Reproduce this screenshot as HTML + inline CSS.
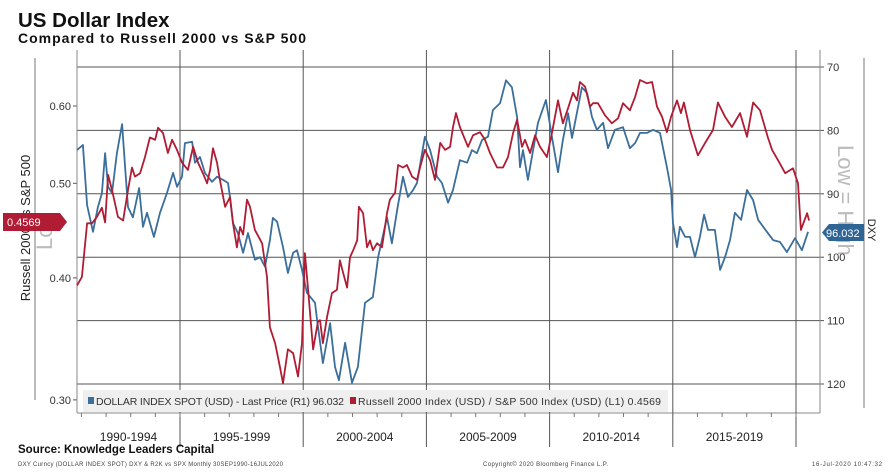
<!DOCTYPE html>
<html><head><meta charset="utf-8"><style>
body{margin:0;background:#fff;}
svg{display:block;font-family:"Liberation Sans",sans-serif;}
</style></head><body>
<svg id="chart" width="894" height="475" viewBox="0 0 894 475" xmlns="http://www.w3.org/2000/svg">
<text x="18" y="27" font-size="20.5" font-weight="bold" fill="#111">US Dollar Index</text>
<text x="18" y="43" font-size="14" font-weight="bold" fill="#111" textLength="288">Compared to Russell 2000 vs S&amp;P 500</text>
<line x1="35" y1="58" x2="35" y2="400" stroke="#777" stroke-width="1"/>
<line x1="864" y1="58" x2="864" y2="408" stroke="#777" stroke-width="1"/>
<text transform="translate(30,228) rotate(-90)" text-anchor="middle" font-size="13" fill="#222">Russell 2000 vs S&amp;P 500</text>
<text transform="translate(868,230) rotate(90)" text-anchor="middle" font-size="11" fill="#222">DXY</text>
<text transform="translate(52,250) rotate(-90)" font-size="22" fill="#bbb">Lo</text>
<text transform="translate(838,145) rotate(90)" font-size="22" fill="#bbb">Low = High</text>
<g id="grid"></g>
<rect x="83" y="390" width="585" height="22" fill="#efefef"/>
<g id="series"></g>
<rect x="88" y="397" width="6" height="7" fill="#3a6f9c"/>
<text x="96" y="405" font-size="10.5" fill="#333" textLength="248">DOLLAR INDEX SPOT (USD) - Last Price (R1) 96.032</text>
<rect x="350" y="397" width="6" height="7" fill="#b01c33"/>
<text x="358" y="405" font-size="10.5" fill="#333" textLength="303">Russell 2000 Index (USD) / S&amp;P 500 Index (USD) (L1) 0.4569</text>
<g>
<polygon points="3,213 60,213 67,222 60,231 3,231" fill="#b01c33"/>
<text x="7" y="226" font-size="11" fill="#fff">0.4569</text></g>
<g>
<polygon points="829,224 864,224 864,241 829,241 822,232.5" fill="#2f6595"/>
<text x="826" y="237" font-size="11" fill="#fff">96.032</text></g>
<text x="18" y="453" font-size="11.5" font-weight="bold" fill="#111">Source: Knowledge Leaders Capital</text>
<text x="18" y="466" font-size="6" fill="#444" textLength="265">DXY Curncy (DOLLAR INDEX SPOT) DXY &amp; R2K vs SPX  Monthly 30SEP1990-16JUL2020</text>
<text x="483" y="466" font-size="6" fill="#444" textLength="125">Copyright© 2020 Bloomberg Finance L.P.</text>
<text x="812" y="466" font-size="6" fill="#444" textLength="70">16-Jul-2020 10:47:32</text>
</svg>
<script>
const periods=["1990-1994","1995-1999","2000-2004","2005-2009","2010-2014","2015-2019"];
const leftTicks=[0.60,0.50,0.40,0.30];
const rightTicks=[70,80,90,100,110,120];
const dxyDates=[1990.82,1991.06,1991.23,1991.47,1991.67,1991.83,1991.96,1992.08,1992.24,1992.44,1992.65,1992.77,1992.89,1993.09,1993.34,1993.50,1993.66,1993.94,1994.19,1994.47,1994.72,1994.88,1995.08,1995.20,1995.49,1995.61,1995.81,1996.01,1996.30,1996.50,1996.75,1996.95,1997.03,1997.15,1997.35,1997.56,1997.76,1998.04,1998.25,1998.45,1998.65,1998.77,1998.94,1999.18,1999.38,1999.59,1999.75,1999.95,2000.15,2000.48,2000.56,2000.80,2001.09,2001.29,2001.45,2001.70,2001.98,2002.22,2002.51,2002.83,2003.04,2003.40,2003.60,2003.81,2004.05,2004.25,2004.46,2004.62,2004.94,2005.15,2005.43,2005.63,2005.88,2006.08,2006.36,2006.65,2006.85,2007.05,2007.26,2007.50,2007.70,2007.99,2008.23,2008.47,2008.68,2008.80,2008.92,2009.12,2009.33,2009.53,2009.85,2010.14,2010.34,2010.54,2010.75,2010.91,2011.31,2011.52,2011.72,2011.92,2012.17,2012.37,2012.65,2012.98,2013.26,2013.47,2013.67,2013.95,2014.20,2014.48,2014.76,2014.93,2015.01,2015.17,2015.29,2015.50,2015.70,2015.90,2016.10,2016.27,2016.43,2016.71,2016.92,2017.12,2017.32,2017.52,2017.77,2018.01,2018.26,2018.46,2018.82,2019.07,2019.35,2019.63,2019.96,2020.24,2020.49];
const dxyValues=[83.1,82.3,91.8,96.0,92.1,89.9,83.6,88.9,89.9,83.6,79.0,85.8,92.1,93.7,89.1,95.2,93.0,96.8,93.0,89.9,86.7,88.9,87.3,82.0,81.8,85.1,84.2,86.7,88.1,87.3,87.8,88.3,90.5,94.6,96.2,99.3,96.2,100.4,100.0,101.5,97.3,93.8,94.4,98.4,102.5,99.3,98.9,102.0,105.6,107.2,109.8,116.7,110.4,117.3,119.4,113.5,119.8,117.3,107.2,106.3,100.0,93.7,97.8,92.6,87.3,90.5,89.4,88.3,81.0,83.1,87.3,88.3,91.4,89.4,84.7,85.1,83.1,83.6,81.5,81.0,76.8,75.7,72.1,73.2,77.9,85.8,83.1,87.8,83.1,78.8,75.2,82.0,86.6,81.5,77.3,81.2,73.2,74.1,77.9,79.9,78.8,82.8,79.9,79.5,82.8,82.0,80.4,80.4,79.9,80.4,85.8,89.4,94.6,98.4,95.2,96.8,96.8,100.0,96.8,93.3,95.7,95.7,102.0,100.0,97.3,93.0,94.1,89.4,91.0,94.1,96.0,97.3,97.6,99.2,97.0,98.9,96.0];
const ratioDates=[1990.82,1991.02,1991.23,1991.43,1991.63,1991.83,1991.96,1992.08,1992.24,1992.36,1992.48,1992.69,1992.89,1993.05,1993.17,1993.38,1993.58,1993.78,1993.99,1994.11,1994.31,1994.51,1994.68,1994.88,1995.08,1995.32,1995.53,1995.73,1995.93,1996.10,1996.22,1996.34,1996.50,1996.62,1996.83,1997.03,1997.15,1997.31,1997.44,1997.56,1997.72,1997.84,1998.04,1998.33,1998.53,1998.65,1998.86,1999.06,1999.18,1999.38,1999.59,1999.79,1999.95,2000.07,2000.20,2000.40,2000.60,2000.68,2000.80,2000.97,2001.17,2001.37,2001.49,2001.62,2001.78,2001.90,2002.03,2002.19,2002.26,2002.43,2002.59,2002.71,2002.83,2003.00,2003.20,2003.40,2003.52,2003.73,2003.85,2004.05,2004.21,2004.42,2004.62,2004.74,2004.94,2005.15,2005.35,2005.56,2005.76,2005.96,2006.08,2006.20,2006.36,2006.57,2006.69,2006.89,2007.18,2007.38,2007.58,2007.87,2008.11,2008.31,2008.52,2008.68,2008.88,2009.00,2009.21,2009.41,2009.61,2009.89,2010.10,2010.34,2010.54,2010.75,2010.95,2011.11,2011.23,2011.44,2011.64,2011.76,2011.96,2012.25,2012.53,2012.78,2012.98,2013.26,2013.47,2013.67,2013.95,2014.16,2014.36,2014.56,2014.76,2014.93,2015.17,2015.33,2015.45,2015.70,2016.02,2016.31,2016.63,2016.83,2017.12,2017.40,2017.73,2018.01,2018.26,2018.54,2018.86,2019.03,2019.27,2019.56,2019.88,2020.08,2020.20,2020.45,2020.53];
const ratioValues=[0.393,0.401,0.455,0.455,0.462,0.472,0.456,0.510,0.492,0.477,0.462,0.458,0.492,0.519,0.508,0.512,0.532,0.557,0.554,0.570,0.563,0.537,0.554,0.541,0.525,0.516,0.545,0.525,0.512,0.500,0.516,0.543,0.525,0.504,0.473,0.484,0.455,0.430,0.451,0.443,0.481,0.473,0.448,0.434,0.401,0.356,0.343,0.324,0.312,0.338,0.335,0.317,0.343,0.424,0.389,0.338,0.361,0.362,0.343,0.365,0.386,0.389,0.417,0.405,0.391,0.420,0.427,0.437,0.473,0.466,0.430,0.437,0.427,0.434,0.430,0.466,0.481,0.489,0.522,0.519,0.522,0.508,0.504,0.519,0.541,0.528,0.504,0.550,0.541,0.545,0.571,0.590,0.571,0.554,0.545,0.560,0.564,0.554,0.537,0.519,0.519,0.532,0.563,0.581,0.545,0.554,0.537,0.560,0.545,0.532,0.564,0.608,0.576,0.597,0.619,0.608,0.635,0.628,0.599,0.604,0.604,0.587,0.576,0.583,0.604,0.594,0.613,0.638,0.633,0.635,0.599,0.585,0.564,0.585,0.608,0.590,0.605,0.567,0.534,0.550,0.567,0.605,0.585,0.571,0.590,0.558,0.605,0.594,0.557,0.541,0.528,0.512,0.518,0.500,0.448,0.466,0.458];

const NS="http://www.w3.org/2000/svg";
const X0=77,X1=820,Y0=50,Y1=413;
function xs(yr){return 180+(yr-1995)*24.64;}
function yL(v){return 106+424*Math.log(0.6/v);}
function yR(v){return 67+(v-70)*6.34;}
function mk(tag,attrs,parent){const e=document.createElementNS(NS,tag);for(const k in attrs)e.setAttribute(k,attrs[k]);parent.appendChild(e);return e;}
const grid=document.getElementById('grid');
const series=document.getElementById('series');

rightTicks.forEach(t=>{
  const y=yR(t);
  const l=mk('line',{x1:X0,x2:X1,y1:y,y2:y,stroke:'#555','stroke-width':1},grid);
  
  
  const tk=mk('line',{x1:X1,x2:X1+4,y1:y,y2:y,stroke:'#555'},grid);
  
  
  const tx=mk('text',{x:X1+7,y:y+4,'font-size':11,fill:'#333'},grid);
  tx.textContent=t;
  
  
});
leftTicks.forEach(t=>{
  const y=yL(t);
  const tk=mk('line',{x1:X0-4,x2:X0,y1:y,y2:y,stroke:'#555'},grid);
  
  
  const tx=mk('text',{x:X0-6,y:y+4,'font-size':11,fill:'#333','text-anchor':'end'},grid);
  tx.textContent=t.toFixed(2);
  
  
});
// plot frame
const fl=mk('line',{x1:X0,x2:X0,y1:Y0,y2:Y1,stroke:'#888'},grid);


const fr=mk('line',{x1:X1,x2:X1,y1:Y0,y2:Y1,stroke:'#888'},grid);


const fb=mk('line',{x1:X0,x2:X1,y1:Y1,y2:Y1,stroke:'#888'},grid);


// period separators and labels
for(let i=0;i<=periods.length;i++){
  const x=xs(1995+i*5);
  const v=mk('line',{x1:x,x2:x,y1:Y0,y2:447,stroke:'#555'},grid);
  
  
}
periods.forEach((p,i)=>{
  const start=parseInt(p);
  const a=Math.max(X0,xs(start)),b=xs(start+5);
  const t=mk('text',{x:(a+b)/2,y:441,'font-size':12,fill:'#222','text-anchor':'middle'},grid);
  t.textContent=p;
  
  
});
for(let yr=1991;yr<=2020;yr++){
  const x=xs(yr);
  const m=mk('line',{x1:x,x2:x,y1:Y1,y2:Y1+4,stroke:'#777'},grid);
  
  
}
function path(dates,vals,fy){return dates.map((d,i)=>(i?'L':'M')+xs(d).toFixed(1)+','+fy(vals[i]).toFixed(1)).join('');}
const pb=mk('path',{d:path(dxyDates,dxyValues,yR),fill:'none',stroke:'#3a6f9c','stroke-width':1.8,'stroke-linejoin':'round'},series);


const pr=mk('path',{d:path(ratioDates,ratioValues,yL),fill:'none',stroke:'#b01c33','stroke-width':1.8,'stroke-linejoin':'round'},series);


</script>
</body></html>
